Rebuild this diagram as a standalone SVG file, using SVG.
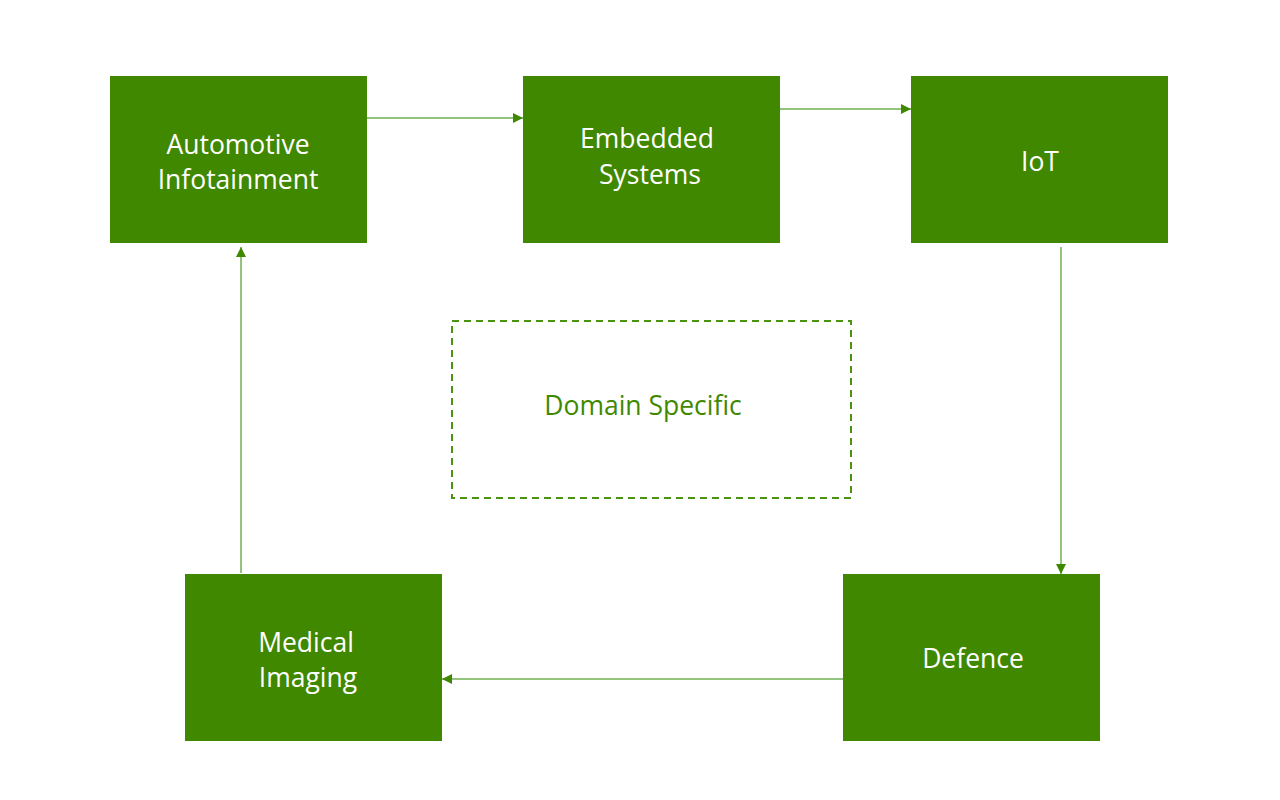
<svg xmlns="http://www.w3.org/2000/svg" width="1280" height="800" viewBox="0 0 1280 800">
  <style>
    .node rect { fill: #3f8800; }
    .node text { fill: #ffffff; font-family: "Open Sans", "Noto Sans", sans-serif; font-size: 26.5px; text-anchor: middle; }
    .conn line { stroke: #93c47d; stroke-width: 2; fill: none; }
    .group-box { fill: none; stroke: #4a9410; stroke-width: 2; stroke-dasharray: 7 5; }
    .group-label { fill: #3f8800; font-family: "Open Sans", "Noto Sans", sans-serif; font-size: 26.5px; text-anchor: middle; }
  </style>
  <defs>
    <marker id="arrow" viewBox="0 0 10 10" refX="10" refY="5" markerWidth="5" markerHeight="5" orient="auto" markerUnits="strokeWidth">
      <path d="M0,0 L10,5 L0,10 Z" fill="#3f8800"/>
    </marker>
  </defs>
  <rect width="1280" height="800" fill="#ffffff"/>

  <g id="connectors" class="conn">
    <line x1="367" y1="118" x2="523" y2="118" marker-end="url(#arrow)"/>
    <line x1="780" y1="109" x2="911" y2="109" marker-end="url(#arrow)"/>
    <line x1="1061" y1="247" x2="1061" y2="574" marker-end="url(#arrow)"/>
    <line x1="843" y1="679" x2="442" y2="679" marker-end="url(#arrow)"/>
    <line x1="241" y1="573" x2="241" y2="247" marker-end="url(#arrow)"/>
  </g>

  <g id="domain-specific">
    <rect class="group-box" x="452" y="321" width="399" height="177"/>
    <text class="group-label" x="643" y="415">Domain Specific</text>
  </g>

  <g id="automotive-infotainment" class="node">
    <rect x="110" y="76" width="257" height="167"/>
    <text x="238" y="154">Automotive</text>
    <text x="238" y="189">Infotainment</text>
  </g>

  <g id="embedded-systems" class="node">
    <rect x="523" y="76" width="257" height="167"/>
    <text x="647" y="148">Embedded</text>
    <text x="650" y="184">Systems</text>
  </g>

  <g id="iot" class="node">
    <rect x="911" y="76" width="257" height="167"/>
    <text x="1040" y="171">IoT</text>
  </g>

  <g id="defence" class="node">
    <rect x="843" y="574" width="257" height="167"/>
    <text x="973" y="668">Defence</text>
  </g>

  <g id="medical-imaging" class="node">
    <rect x="185" y="574" width="257" height="167"/>
    <text x="306" y="652">Medical</text>
    <text x="308" y="687">Imaging</text>
  </g>
</svg>
